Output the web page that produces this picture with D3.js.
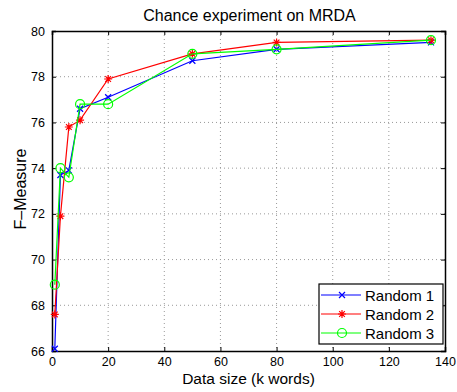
<!DOCTYPE html>
<html>
<head>
<meta charset="utf-8">
<script src="https://cdn.jsdelivr.net/npm/d3@7"></script>
<style>
  body { margin: 0; background: #fff; }
  text { font-family: "Liberation Sans", Arial, sans-serif; fill: #000; }
</style>
</head>
<body>
<div id="chart"></div>
<script>
// data size (k words)
var sizes = [1, 3, 6, 10, 20, 50, 80, 135];
var random1 = [66.1, 73.7, 73.9, 76.6, 77.1, 78.7, 79.2, 79.5];
var random2 = [67.6, 71.9, 75.8, 76.1, 77.9, 79.0, 79.5, 79.6];
var random3 = [68.9, 74.0, 73.6, 76.8, 76.8, 79.0, 79.2, 79.6];
var seriesNames = ["Random 1", "Random 2", "Random 3"];
var xTicks = [0, 20, 40, 60, 80, 100, 120, 140];
var yTicks = [66, 68, 70, 72, 74, 76, 78, 80];

var W = 457, H = 392;
var margin = {top: 31, right: 12, bottom: 41, left: 52};
var width = W - margin.left - margin.right,
    height = H - margin.top - margin.bottom;

var svg = d3.select("#chart").append("svg")
    .attr("width", W)
    .attr("height", H)
  .append("g")
    .attr("transform", "translate(" + margin.left + "," + margin.top + ")");

var x = d3.scaleLinear().domain([0, 140]).range([0, width]);
var y = d3.scaleLinear().domain([66, 80]).range([height, 0]);

// grid (dotted)
svg.selectAll(".gx").data(xTicks.slice(1, -1)).enter().append("line")
    .attr("x1", function(d) { return x(d); }).attr("x2", function(d) { return x(d); })
    .attr("y1", 0).attr("y2", height)
    .attr("stroke", "#999").attr("stroke-width", 1).attr("stroke-dasharray", "1,3");
svg.selectAll(".gy").data(yTicks.slice(1, -1)).enter().append("line")
    .attr("y1", function(d) { return y(d); }).attr("y2", function(d) { return y(d); })
    .attr("x1", 0).attr("x2", width)
    .attr("stroke", "#999").attr("stroke-width", 1).attr("stroke-dasharray", "1,3");

// axes with inward ticks, on all four sides
var tick = 4;
svg.append("g").attr("transform", "translate(0," + height + ")")
    .call(d3.axisBottom(x).tickValues(xTicks).tickSize(-tick).tickPadding(6));
svg.append("g")
    .call(d3.axisTop(x).tickValues(xTicks).tickSize(-tick).tickFormat(""));
svg.append("g")
    .call(d3.axisLeft(y).tickValues(yTicks).tickSize(-tick).tickPadding(7));
svg.append("g").attr("transform", "translate(" + width + ",0)")
    .call(d3.axisRight(y).tickValues(yTicks).tickSize(-tick).tickFormat(""));

svg.selectAll(".domain").attr("stroke", "#000").attr("stroke-width", 1.5);
svg.selectAll(".tick line").attr("stroke", "#000");
svg.selectAll(".tick text").style("font-size", "12.5px")
    .style("font-family", "'Liberation Sans', Arial, sans-serif");

// title and labels
svg.append("text").attr("x", width / 2 + 1).attr("y", -10)
    .attr("text-anchor", "middle").style("font-size", "16px")
    .text("Chance experiment on MRDA");
svg.append("text").attr("x", width / 2).attr("y", height + 33)
    .attr("text-anchor", "middle").style("font-size", "15.5px")
    .text("Data size (k words)");
svg.append("text")
    .attr("transform", "translate(" + (-26) + "," + (height / 2 - 2) + ") rotate(-90)")
    .attr("text-anchor", "middle").style("font-size", "16px")
    .text("F\u2013Measure");

// series
var series = [
  {name: seriesNames[0], values: random1, color: "#0000ff", marker: "x"},
  {name: seriesNames[1], values: random2, color: "#ff0000", marker: "star"},
  {name: seriesNames[2], values: random3, color: "#00ff00", marker: "o"}
];

function drawMarker(g, type, color, cx, cy) {
  var m = g.append("g").attr("transform", "translate(" + cx + "," + cy + ")");
  if (type === "x") {
    var s = 3;
    m.append("path").attr("d", "M" + (-s) + "," + (-s) + "L" + s + "," + s + "M" + (-s) + "," + s + "L" + s + "," + (-s))
      .attr("stroke", color).attr("stroke-width", 1.2).attr("fill", "none");
  } else if (type === "star") {
    var r = 4, p = "";
    for (var k = 0; k < 4; k++) {
      var a = k * Math.PI / 4;
      p += "M" + (-r * Math.cos(a)) + "," + (-r * Math.sin(a)) + "L" + (r * Math.cos(a)) + "," + (r * Math.sin(a));
    }
    m.append("path").attr("d", p).attr("stroke", color).attr("stroke-width", 1.2).attr("fill", "none");
  } else {
    m.append("circle").attr("r", 4.5).attr("stroke", color).attr("stroke-width", 1.2).attr("fill", "none");
  }
}

var line = d3.line()
    .x(function(d, i) { return x(sizes[i]); })
    .y(function(d) { return y(d); });

series.forEach(function(s) {
  var g = svg.append("g");
  g.append("path").datum(s.values)
    .attr("d", line)
    .attr("fill", "none")
    .attr("stroke", s.color)
    .attr("stroke-width", 1.2);
  s.values.forEach(function(v, i) {
    drawMarker(g, s.marker, s.color, x(sizes[i]), y(v));
  });
});

// legend
var lg = svg.append("g").attr("transform", "translate(" + (319 - margin.left) + "," + (284 - margin.top) + ")");
lg.append("rect").attr("width", 124).attr("height", 60)
  .attr("fill", "#fff").attr("stroke", "#000").attr("stroke-width", 1.2);
series.forEach(function(s, i) {
  var ly = 11 + i * 19;
  lg.append("line").attr("x1", 2).attr("x2", 42).attr("y1", ly).attr("y2", ly)
    .attr("stroke", s.color).attr("stroke-width", 1.2);
  drawMarker(lg, s.marker, s.color, 23, ly);
  lg.append("text").attr("x", 46).attr("y", ly + 5.5)
    .style("font-size", "15px").text(s.name);
});
</script>
</body>
</html>
